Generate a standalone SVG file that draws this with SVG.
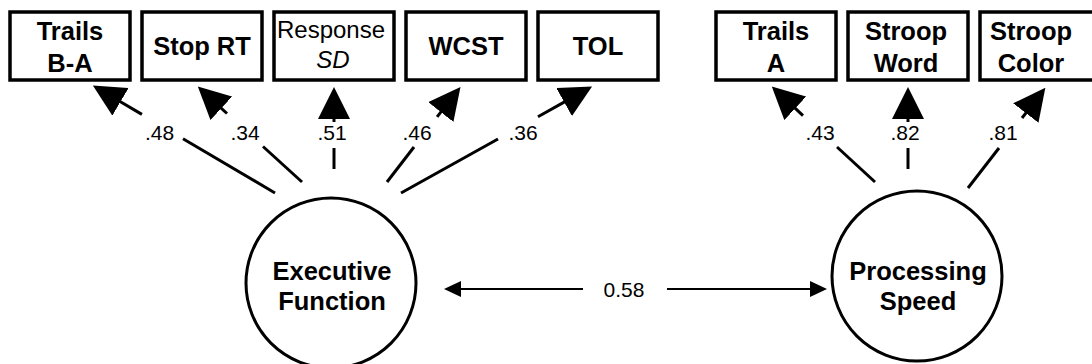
<svg xmlns="http://www.w3.org/2000/svg" width="1092" height="364" viewBox="0 0 1092 364">
<style>
text{font-family:"Liberation Sans",Arial,sans-serif;fill:#000}
.box{fill:#fff;stroke:#000;stroke-width:3.5}
.circ{fill:#fff;stroke:#000;stroke-width:3}
.b{font-weight:bold;font-size:25.5px;text-anchor:middle}
.r{font-size:24px;text-anchor:middle}
.lbl{font-size:21px;text-anchor:middle}
.ld{stroke:#000;stroke-width:3;fill:none}
.ah{stroke:#000;stroke-width:3;fill:none;marker-end:url(#big)}
.cor{stroke:#000;stroke-width:1.8;fill:none;marker-end:url(#small)}
</style>
<defs>
<marker id="big" markerUnits="userSpaceOnUse" viewBox="0 0 32 32" markerWidth="32" markerHeight="32" refX="1" refY="16" orient="auto"><path d="M0,0 L32,16 L0,32 z" fill="#000"/></marker>
<marker id="small" markerUnits="userSpaceOnUse" viewBox="0 0 17 16" markerWidth="17" markerHeight="16" refX="1" refY="8" orient="auto"><path d="M0,0 L17,8 L0,16 z" fill="#000"/></marker>
</defs>
<g id="trailsBA"><rect class="box" x="10" y="12" width="120" height="68"/><text class="b" x="70" y="40">Trails</text><text class="b" x="70" y="72">B-A</text></g>
<g id="stopRT"><rect class="box" x="142" y="12" width="120" height="68"/><text class="b" x="202" y="55">Stop RT</text></g>
<g id="responseSD"><rect class="box" x="274" y="12" width="120" height="68"/><text class="r" x="331" y="38">Response</text><text class="r" x="333" y="68" font-style="italic">SD</text></g>
<g id="wcst"><rect class="box" x="406" y="12" width="120" height="68"/><text class="b" x="466" y="55">WCST</text></g>
<g id="tol"><rect class="box" x="538" y="12" width="120" height="68"/><text class="b" x="598" y="55">TOL</text></g>
<g id="trailsA"><rect class="box" x="716" y="12" width="120" height="68"/><text class="b" x="776" y="40">Trails</text><text class="b" x="776" y="72">A</text></g>
<g id="stroopWord"><rect class="box" x="848" y="12" width="120" height="68"/><text class="b" x="906" y="40">Stroop</text><text class="b" x="906" y="72">Word</text></g>
<g id="stroopColor"><rect class="box" x="980" y="12" width="124" height="68"/><text class="b" x="1031" y="40">Stroop</text><text class="b" x="1031" y="72">Color</text></g>
<g id="executiveFunction"><circle class="circ" cx="331" cy="283" r="85"/><text class="b" x="332" y="280">Executive</text><text class="b" x="332" y="310">Function</text></g>
<g id="processingSpeed"><circle class="circ" cx="917" cy="276" r="85"/><text class="b" x="918" y="280">Processing</text><text class="b" x="918" y="310">Speed</text></g>
<g id="connectors">
<path class="ld" d="M275,193 L183,138.7"/><path class="ah" d="M141.9,114.4 L119.6,101.3"/>
<path class="ld" d="M302,182 L263,146.5"/><path class="ah" d="M227,113.5 L220.6,107.6"/>
<path class="ld" d="M334,169 L334,148"/><path class="ah" d="M334,122 L334,118"/>
<path class="ld" d="M387,182 L414,147"/><path class="ah" d="M437.1,116.8 L441.4,111.3"/>
<path class="ld" d="M401,193 L498,139"/><path class="ah" d="M538,116.7 L565,101.6"/>
<path class="ld" d="M875,182 L837,147"/><path class="ah" d="M803,115.6 L794.5,107.7"/>
<path class="ld" d="M908,169 L908,148"/><path class="ah" d="M908,122 L908,118"/>
<path class="ld" d="M968,188 L999,148"/><path class="ah" d="M1022,118 L1026.4,112.3"/>
<path class="cor" d="M583,289 L460,289"/>
<path class="cor" d="M667,289 L811,289"/>
<text class="lbl" x="159.5" y="140">.48</text>
<text class="lbl" x="245" y="140">.34</text>
<text class="lbl" x="332" y="140">.51</text>
<text class="lbl" x="417" y="140">.46</text>
<text class="lbl" x="523" y="140">.36</text>
<text class="lbl" x="820" y="140">.43</text>
<text class="lbl" x="905" y="140">.82</text>
<text class="lbl" x="1003" y="140">.81</text>
<text class="lbl" x="624" y="297" font-size="23">0.58</text>
</g>
</svg>
